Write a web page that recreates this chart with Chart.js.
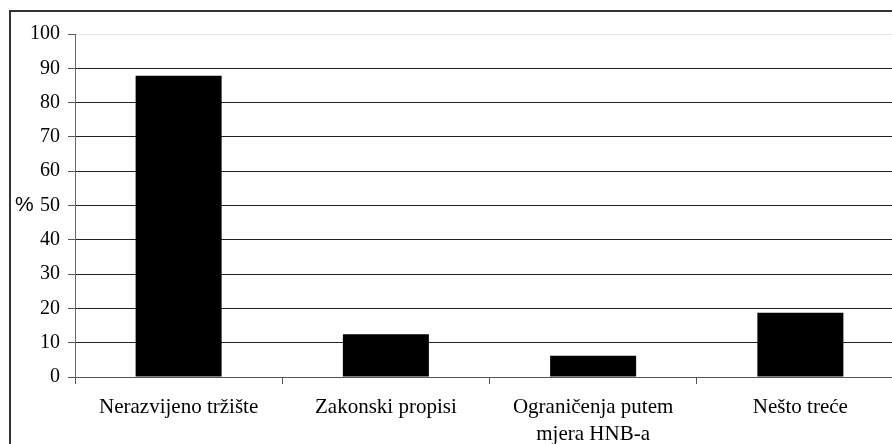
<!DOCTYPE html>
<html>
<head>
<meta charset="utf-8">
<script src="https://cdn.jsdelivr.net/npm/chart.js@4/dist/chart.umd.min.js"></script>
<style>
  html, body { margin: 0; padding: 0; background: #fff; overflow: hidden; }
  #wrap { position: relative; width: 920px; height: 444px; }
  #frame { position: absolute; left: 9px; top: 10px; width: 1000px; height: 1000px; border: 2px solid #333; box-sizing: border-box; }
  #pct { position: absolute; left: 15px; top: 192px; font-family: "Liberation Sans", Arial, sans-serif; font-size: 21px; color: #000; }
  canvas { position: absolute; left: 0; top: 0; }
</style>
</head>
<body>
<div id="wrap">
  <div id="frame"></div>
  <canvas id="my-chart" width="920" height="444"></canvas>
  <div id="pct">%</div>
</div>
<script>
const categories = ["Nerazvijeno tržište", "Zakonski propisi", ["Ograničenja putem", "mjera HNB-a"], "Nešto treće"];
const values = [87.8, 12.5, 6.2, 18.7];
const yTicks = [0, 10, 20, 30, 40, 50, 60, 70, 80, 90, 100];

const serif = "'Liberation Serif', 'Times New Roman', serif";

const ctx = document.getElementById("my-chart").getContext("2d");

const myChart = new Chart(ctx, {
    type: "bar",
    data: {
        labels: categories,
        datasets: [
            {
                data: values,
                backgroundColor: "#000",
                borderColor: "#555",
                borderWidth: 0,
                categoryPercentage: 1,
                barPercentage: 0.415
            }
        ]
    },
    options: {
        responsive: false,
        animation: false,
        layout: { padding: { top: 34, right: 16, bottom: 0, left: 0 } },
        plugins: {
            legend: { display: false },
            tooltip: { enabled: false }
        },
        scales: {
            x: {
                grid: {
                    offset: true,
                    drawOnChartArea: false,
                    drawTicks: true,
                    tickLength: 7,
                    tickColor: "#555"
                },
                border: { color: "#555", width: 1 },
                ticks: {
                    color: "#000",
                    padding: 10,
                    maxRotation: 0,
                    autoSkip: false,
                    font: { family: serif, size: 21, lineHeight: 1.27 }
                },
                afterFit: scale => { scale.height = 67; }
            },
            y: {
                min: 0,
                max: 100,
                afterBuildTicks: scale => {
                    scale.ticks = yTicks.map(v => ({ value: v }));
                },
                grid: {
                    color: c => (c.tick && c.tick.value === 100 ? "#e6e6e6" : "#222"),
                    tickColor: "#555",
                    tickLength: 7
                },
                border: { color: "#666", width: 1 },
                ticks: {
                    color: "#000",
                    padding: 8,
                    font: { family: serif, size: 20 }
                },
                afterFit: scale => { scale.width = 75; }
            }
        }
    }
});
</script>
</body>
</html>
